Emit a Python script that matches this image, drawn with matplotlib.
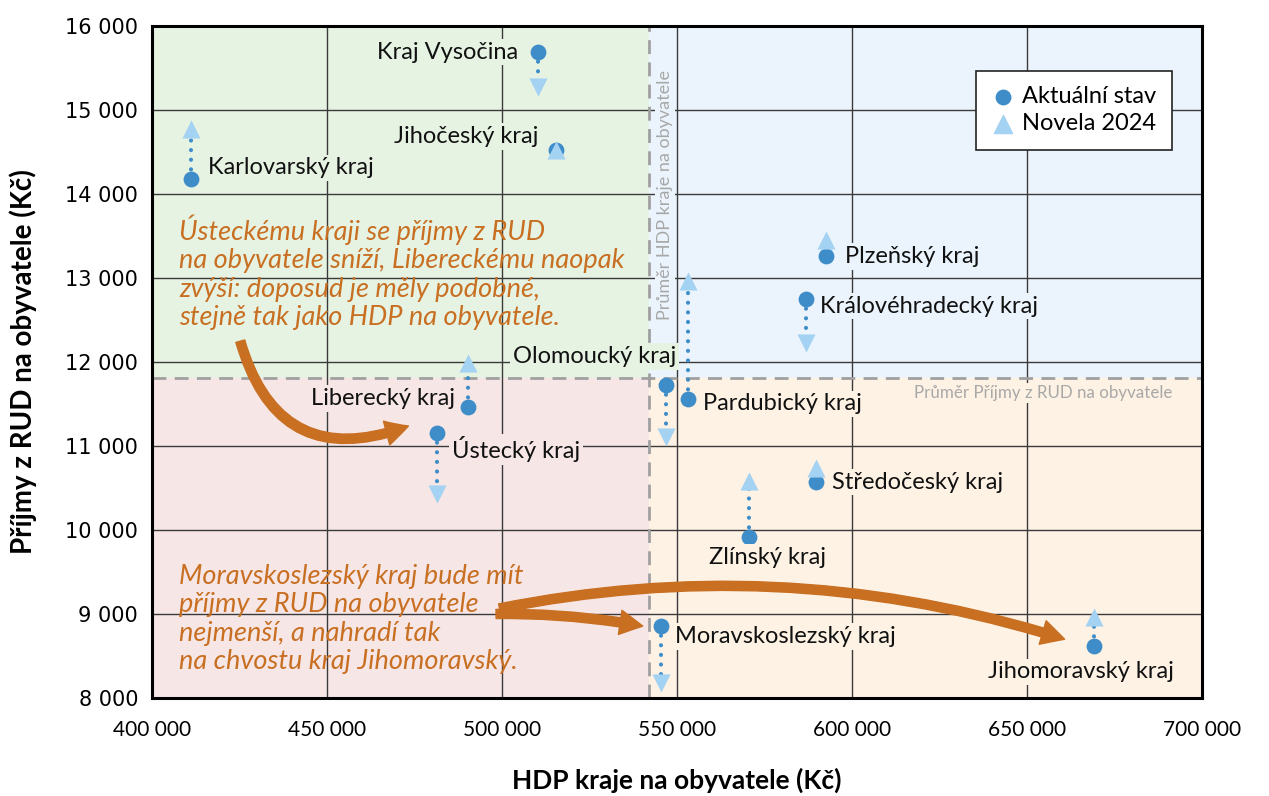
import numpy as np
import matplotlib.pyplot as plt
from matplotlib.patches import Rectangle, FancyArrowPatch
from matplotlib import font_manager

# data
kraje = ["Kraj Vysočina", "Jihočeský kraj", "Karlovarský kraj", "Plzeňský kraj",
         "Královéhradecký kraj", "Olomoucký kraj", "Pardubický kraj", "Liberecký kraj",
         "Ústecký kraj", "Středočeský kraj", "Zlínský kraj", "Moravskoslezský kraj",
         "Jihomoravský kraj"]
hdp = [510300, 515400, 411100, 592600, 586900, 546900, 553100, 490300,
       481400, 589700, 570600, 545400, 669100]
rud_aktualni = [15690, 14520, 14180, 13260, 12750, 11730, 11560, 11460,
                11150, 10570, 9920, 8860, 8620]
rud_novela = [15270, 14530, 14770, 13450, 12230, 11110, 12960, 11990,
              10430, 10740, 10580, 8180, 8960]
prumer_hdp = 542000
prumer_rud = 11810

xticks = [400000, 450000, 500000, 550000, 600000, 650000, 700000]
yticks = list(range(8000, 16001, 1000))

# label offsets (pixels) and alignment
label_pos = {
    "Kraj Vysočina": (-20, 0, "right"),
    "Jihočeský kraj": (-18, 14, "right"),
    "Karlovarský kraj": (17, 11, "left"),
    "Plzeňský kraj": (19, 0, "left"),
    "Královéhradecký kraj": (14, -7, "left"),
    "Olomoucký kraj": (10, 28, "right"),
    "Pardubický kraj": (15, -5, "left"),
    "Liberecký kraj": (-13, 9, "right"),
    "Ústecký kraj": (15, -16, "left"),
    "Středočeský kraj": (16, 0, "left"),
    "Zlínský kraj": (18, -21, "center"),
    "Moravskoslezský kraj": (14, -11, "left"),
    "Jihomoravský kraj": (-13, -26, "center"),
}

available = {f.name for f in font_manager.fontManager.ttflist}
label_font = "Lato" if "Lato" in available else "DejaVu Sans"

c_green = "#e6f3e3"
c_blue = "#ebf4fc"
c_pink = "#f6e6e6"
c_orange = "#fef2e4"
c_point = "#3f8dc8"
c_tri = "#a4d2f2"
c_note = "#c86f22"


def bg_color(x, y):
    if x < prumer_hdp:
        return c_green if y > prumer_rud else c_pink
    return c_blue if y > prumer_rud else c_orange


fig = plt.figure(figsize=(12.69, 7.96), dpi=100)
ax = fig.add_axes([0.1198, 0.1231, 0.8274, 0.8442])
ax.set_xlim(400000, 700000)
ax.set_ylim(8000, 16000)

# quadrants
ax.add_patch(Rectangle((400000, prumer_rud), prumer_hdp - 400000, 16000 - prumer_rud, color=c_green, zorder=0))
ax.add_patch(Rectangle((prumer_hdp, prumer_rud), 700000 - prumer_hdp, 16000 - prumer_rud, color=c_blue, zorder=0))
ax.add_patch(Rectangle((400000, 8000), prumer_hdp - 400000, prumer_rud - 8000, color=c_pink, zorder=0))
ax.add_patch(Rectangle((prumer_hdp, 8000), 700000 - prumer_hdp, prumer_rud - 8000, color=c_orange, zorder=0))

ax.set_xticks(xticks)
ax.set_yticks(yticks)
ax.grid(True, color="#3a3a3a", linewidth=1.0, zorder=1)
ax.set_axisbelow(True)
ax.tick_params(length=0)
for s in ax.spines.values():
    s.set_linewidth(2.2)
    s.set_zorder(10)

fmt = lambda v: f"{v:,.0f}".replace(",", " ")
ax.set_xticklabels([fmt(v) for v in xticks], fontsize=15, family=label_font)
ax.set_yticklabels([fmt(v) for v in yticks], fontsize=15, family="DejaVu Sans")
ax.tick_params(axis="x", pad=16)
ax.tick_params(axis="y", pad=10)

ax.set_xlabel("HDP kraje na obyvatele (Kč)", fontsize=19, fontweight="bold", family=label_font, labelpad=20)
ax.set_ylabel("Příjmy z RUD na obyvatele (Kč)", fontsize=20, fontweight="bold", family=label_font, labelpad=20)

# average lines
ax.axvline(prumer_hdp, color="#a0a0a0", linestyle=(0, (5, 3)), linewidth=2, zorder=2)
ax.axhline(prumer_rud, color="#a0a0a0", linestyle=(0, (5, 3)), linewidth=2, zorder=2)
ax.text(prumer_hdp + 4600, 13990, "Průměr HDP kraje na obyvatele", rotation=90, color="#a8a8a8",
        fontsize=13, family=label_font, ha="center", va="center", zorder=3,
        bbox=dict(boxstyle="square,pad=0.1", fc=c_blue, ec="none"))
ax.text(691400, 11630, "Průměr Příjmy z RUD na obyvatele", color="#a8a8a8",
        fontsize=12.2, family=label_font, ha="right", va="center", zorder=3,
        bbox=dict(boxstyle="square,pad=0.1", fc=c_orange, ec="none"))

# dotted connectors
for x, y0, y1 in zip(hdp, rud_aktualni, rud_novela):
    ax.plot([x, x], [y0, y1], color=c_point, linestyle=(0, (0.01, 2.3)), linewidth=3.0, zorder=4,
            dash_capstyle="round")

# points
ax.scatter(hdp, rud_aktualni, s=130, color=c_point, zorder=5, label="Aktuální stav", linewidths=0)
for x, y0, y1 in zip(hdp, rud_aktualni, rud_novela):
    m = "^" if y1 >= y0 else "v"
    ax.scatter([x], [y1], s=170, marker=m, color=c_tri, zorder=6, linewidths=0)
ax.scatter([], [], s=170, marker="^", color=c_tri, label="Novela 2024")

# region labels
for name, x, y in zip(kraje, hdp, rud_aktualni):
    dx, dy, ha = label_pos[name]
    fc = c_green if name == "Olomoucký kraj" else bg_color(x, y)
    ax.annotate(name, (x, y), xytext=(dx, dy), textcoords="offset pixels", ha=ha, va="center",
                fontsize=17, family=label_font, color="#111111", zorder=7,
                bbox=dict(boxstyle="square,pad=0.12", fc=fc, ec="none"))

leg = ax.legend(loc="upper right", bbox_to_anchor=(0.971, 0.933), frameon=True, fancybox=False,
                prop={"family": label_font, "size": 17}, handletextpad=0.3, borderpad=0.65,
                handlelength=1.0, labelspacing=0.25, borderaxespad=0)
leg.get_frame().set_edgecolor("#222222")
leg.get_frame().set_linewidth(1.2)
leg.get_frame().set_alpha(1)
leg.set_zorder(11)

# notes
note1 = ("Ústeckému kraji se příjmy z RUD\nna obyvatele sníží, Libereckému naopak\n"
         "zvýší: doposud je měly podobné,\nstejně tak jako HDP na obyvatele.")
note2 = ("Moravskoslezský kraj bude mít\npříjmy z RUD na obyvatele\n"
         "nejmenší, a nahradí tak\nna chvostu kraj Jihomoravský.")
ax.text(407800, 13760, note1, color=c_note, fontsize=19.5, style="italic", family=label_font,
        ha="left", va="top", linespacing=1.18, zorder=8)
ax.text(407800, 9600, note2, color=c_note, fontsize=19.5, style="italic", family=label_font,
        ha="left", va="top", linespacing=1.18, zorder=8)

arrows = [
    ((425000, 12280), (474000, 11250), 0.55),
    ((497500, 9000), (541000, 8850), -0.05),
    ((498500, 9060), (661500, 8690), -0.13),
]
for start, end, rad in arrows:
    ax.add_patch(FancyArrowPatch(start, end, connectionstyle=f"arc3,rad={rad}",
                                 arrowstyle="simple,head_width=1.6,head_length=1.5,tail_width=0.6",
                                 mutation_scale=11, color=c_note, zorder=8))

fig.savefig("out.png", dpi=100)
